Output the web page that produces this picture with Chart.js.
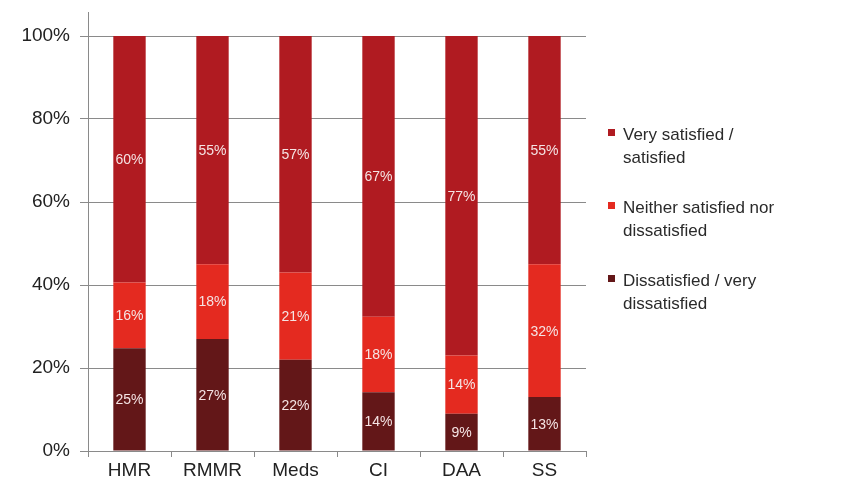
<!DOCTYPE html>
<html>
<head>
<meta charset="utf-8">
<script src="https://cdn.jsdelivr.net/npm/chart.js@4/dist/chart.umd.min.js"></script>
<style>
  html, body { margin: 0; padding: 0; background: #fff; }
  #wrap { width: 844px; height: 494px; position: relative; }
</style>
</head>
<body>
<div id="wrap"><canvas id="c" width="844" height="494"></canvas></div>
<script>
const categories = ['HMR', 'RMMR', 'Meds', 'CI', 'DAA', 'SS'];
const dissatisfied = [25, 27, 22, 14, 9, 13];
const neither = [16, 18, 21, 18, 14, 32];
const satisfied = [60, 55, 57, 67, 77, 55];
const seriesLabelLines = {
  satisfied: ['Very satisfied /', 'satisfied'],
  neither: ['Neither satisfied nor', 'dissatisfied'],
  dissatisfied: ['Dissatisfied / very', 'dissatisfied']
};
const yTicks = [0, 20, 40, 60, 80, 100];

const totals = categories.map((_, i) => dissatisfied[i] + neither[i] + satisfied[i]);
const norm = arr => arr.map((v, i) => v / totals[i] * 100);

const FONT = "'Liberation Sans', Arial, sans-serif";

const labelPlugin = {
  id: 'segLabels',
  afterDatasetsDraw(chart) {
    const ctx = chart.ctx;
    ctx.save();
    ctx.font = '14px ' + FONT;
    ctx.fillStyle = '#f5e4e4';
    ctx.textAlign = 'center';
    ctx.textBaseline = 'middle';
    chart.data.datasets.forEach((ds, di) => {
      const meta = chart.getDatasetMeta(di);
      meta.data.forEach((el, i) => {
        const y = (el.y + el.base) / 2;
        ctx.fillText(ds.raw[i] + '%', el.x, y + 1);
      });
    });
    ctx.restore();
  }
};

const legendPlugin = {
  id: 'sideLegend',
  afterDraw(chart) {
    const ctx = chart.ctx;
    const area = chart.chartArea;
    ctx.save();
    ctx.strokeStyle = '#8a8a8a';
    ctx.lineWidth = 1;
    ctx.beginPath();
    ctx.moveTo(area.left + 0.5, 12);
    ctx.lineTo(area.left + 0.5, area.top);
    ctx.stroke();

    ctx.font = '17px ' + FONT;
    ctx.textAlign = 'left';
    ctx.textBaseline = 'alphabetic';
    const order = chart.data.datasets.slice().reverse();
    const baseY = 140;
    const step = 73;
    order.forEach((ds, k) => {
      const y = baseY + k * step;
      ctx.fillStyle = ds.backgroundColor;
      ctx.fillRect(608, y - 11, 7, 7);
      ctx.fillStyle = '#2a2a2a';
      ds.lines.forEach((line, j) => {
        ctx.fillText(line, 623, y + j * 23);
      });
    });
    ctx.restore();
  }
};

new Chart(document.getElementById('c'), {
  type: 'bar',
  data: {
    labels: categories,
    datasets: [
      { label: seriesLabelLines.dissatisfied.join(' '), lines: seriesLabelLines.dissatisfied, raw: dissatisfied, data: norm(dissatisfied), backgroundColor: '#631718' },
      { label: seriesLabelLines.neither.join(' '), lines: seriesLabelLines.neither, raw: neither, data: norm(neither), backgroundColor: '#e42a20' },
      { label: seriesLabelLines.satisfied.join(' '), lines: seriesLabelLines.satisfied, raw: satisfied, data: norm(satisfied), backgroundColor: '#b01b21' }
    ]
  },
  options: {
    responsive: false,
    animation: false,
    events: [],
    layout: { padding: { left: 0, right: 258, top: 36, bottom: 0 } },
    datasets: { bar: { barPercentage: 0.39, categoryPercentage: 1.0 } },
    plugins: { legend: { display: false }, tooltip: { enabled: false } },
    scales: {
      x: {
        stacked: true,
        afterFit(scale) { scale.height = 43; },
        grid: { drawOnChartArea: false, drawTicks: true, tickLength: 6, color: '#8a8a8a', offset: true },
        border: { color: '#8a8a8a' },
        ticks: { color: '#222', font: { size: 19, family: FONT }, padding: 2 }
      },
      y: {
        stacked: true,
        min: 0, max: 100,
        afterFit(scale) { scale.width = 88; },
        afterBuildTicks(scale) { scale.ticks = yTicks.map(v => ({ value: v })); },
        grid: { color: '#8a8a8a', tickLength: 8 },
        border: { color: '#8a8a8a' },
        ticks: { color: '#222', font: { size: 19, family: FONT }, padding: 10, callback: v => v + '%' }
      }
    }
  },
  plugins: [labelPlugin, legendPlugin]
});
</script>
</body>
</html>
